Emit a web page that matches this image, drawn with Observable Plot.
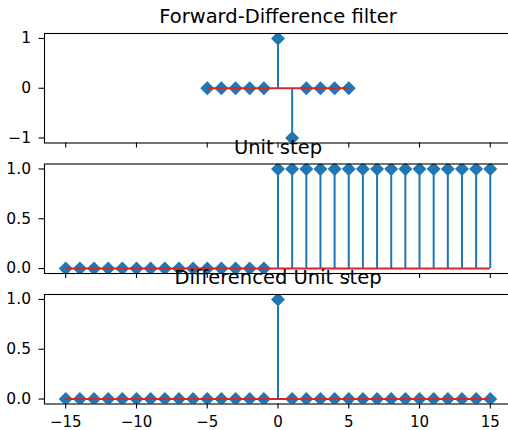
<!DOCTYPE html>
<html><head><meta charset="utf-8">
<script src="https://cdn.jsdelivr.net/npm/d3@7"></script>
<script src="https://cdn.jsdelivr.net/npm/@observablehq/plot@0.6"></script>
<style>
html,body{margin:0;padding:0;background:#fff;overflow:hidden;}
#chart{position:relative;width:508px;height:430px;overflow:hidden;background:#fff;}
#chart svg{position:absolute;left:0;top:0;max-width:none;background:transparent;}
</style></head><body><div id="chart"></div>
<script>
// Forward-difference filter h[n]
const filterN = [-5, -4, -3, -2, -1, 0, 1, 2, 3, 4, 5];
const filterH = [0, 0, 0, 0, 0, 1, -1, 0, 0, 0, 0];
// Unit step u[n]
const stepN = [-15, -14, -13, -12, -11, -10, -9, -8, -7, -6, -5, -4, -3, -2, -1, 0, 1, 2, 3, 4, 5, 6, 7, 8, 9, 10, 11, 12, 13, 14, 15];
const stepU = [0, 0, 0, 0, 0, 0, 0, 0, 0, 0, 0, 0, 0, 0, 0, 1, 1, 1, 1, 1, 1, 1, 1, 1, 1, 1, 1, 1, 1, 1, 1];
// Differenced unit step
const diffU = [0, 0, 0, 0, 0, 0, 0, 0, 0, 0, 0, 0, 0, 0, 0, 1, 0, 0, 0, 0, 0, 0, 0, 0, 0, 0, 0, 0, 0, 0, 0];

const titles = ["Forward-Difference filter", "Unit step", "Differenced Unit step"];
const xTicks = [-15, -10, -5, 0, 5, 10, 15];
const yTicksFilter = [-1, 0, 1];
const yTicksStep = [0, 0.5, 1];

const STEM = "#1f77b4", BASE = "#d62728";
const W = 520, H = 430;
const diamond = {
  draw(ctx, size) {
    const h = Math.sqrt(size / Math.PI) * 1.25;
    ctx.moveTo(0, -h); ctx.lineTo(h, 0); ctx.lineTo(0, h); ctx.lineTo(-h, 0); ctx.closePath();
  }
};

const panels = [
  {title: titles[0], n: filterN, v: filterH, yDomain: [-1.1, 1.1], yTicks: yTicksFilter, yFmt: d3.format("d"), top: 33, labels: false},
  {title: titles[1], n: stepN, v: stepU, yDomain: [-0.05, 1.05], yTicks: yTicksStep, yFmt: d3.format(".1f"), top: 163.5, labels: false},
  {title: titles[2], n: stepN, v: diffU, yDomain: [-0.05, 1.05], yTicks: yTicksStep, yFmt: d3.format(".1f"), top: 294, labels: true}
];
const panelH = 109.5;

const chart = document.getElementById("chart");
for (const p of panels) {
  const data = p.n.map((n, i) => ({n, v: p.v[i]}));
  const svg = Plot.plot({
    width: W, height: H,
    marginLeft: 44, marginRight: 9,
    marginTop: p.top, marginBottom: H - p.top - panelH,
    style: {fontFamily: "DejaVu Sans", fontSize: "15.5px", color: "black", background: "transparent", maxWidth: "none", overflow: "visible"},
    x: {domain: [-16.5, 16.5], label: null},
    y: {domain: p.yDomain, label: null},
    marks: [
      Plot.ruleX(data, {x: "n", y1: 0, y2: "v", stroke: STEM, strokeWidth: 2, clip: "frame"}),
      Plot.dot(data, {x: "n", y: "v", symbol: diamond, r: 5.6, fill: STEM, stroke: "none", clip: "frame"}),
      Plot.ruleY([0], {x1: d3.min(p.n), x2: d3.max(p.n), stroke: BASE, strokeWidth: 2, clip: "frame"}),
      Plot.frame({stroke: "black", strokeWidth: 1.1}),
      Plot.axisY(p.yTicks, {anchor: "left", tickSize: 5.5, tickPadding: 8, tickFormat: p.yFmt, fontSize: 15.5, label: null, stroke: "black", strokeWidth: 1.1}),
      Plot.axisX(xTicks, {anchor: "bottom", tickSize: 5, tickPadding: 7, fontSize: 15, label: null, stroke: "black", strokeWidth: 1.1,
        tickFormat: p.labels ? d3.format("d") : () => ""}),
      Plot.text([p.title], {frameAnchor: "top", lineAnchor: "bottom", dy: -10.5, fontSize: 19.5, fill: "black"})
    ]
  });
  chart.appendChild(svg);
}
</script>
</body></html>
